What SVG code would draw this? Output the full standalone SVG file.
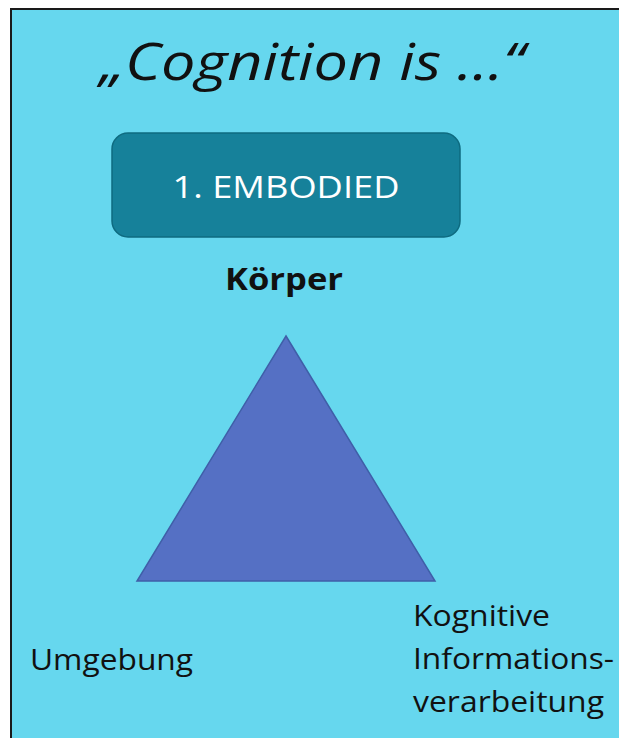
<svg xmlns="http://www.w3.org/2000/svg" width="619" height="738" viewBox="0 0 619 738">
<style>
.t{font-family:"Open Sans","Liberation Sans",sans-serif;fill:#111;}
</style>
<rect x="0" y="0" width="619" height="738" fill="#ffffff"/>
<rect x="11" y="9" width="610" height="731" fill="#66d7ee" stroke="#1a1a1a" stroke-width="2"/>
<text class="t" x="312" y="80" font-size="52" font-style="italic" text-anchor="middle" textLength="425" lengthAdjust="spacingAndGlyphs">„Cognition is …“</text>
<g id="embodied">
<rect x="112" y="133" width="348" height="104" rx="16" ry="16" fill="#16819a" stroke="#0e6b80" stroke-width="1.5"/>
<text x="286" y="198" font-family="Open Sans, Liberation Sans, sans-serif" font-size="31" fill="#ffffff" text-anchor="middle" textLength="227" lengthAdjust="spacingAndGlyphs">1. EMBODIED</text>
</g>
<g id="koerper">
<text class="t" x="284" y="290" font-size="30" font-weight="bold" text-anchor="middle" textLength="118" lengthAdjust="spacingAndGlyphs">Körper</text>
</g>
<g id="triangle">
<polygon points="286,336 435,581 137,581" fill="#5570c4" stroke="#3f5fa8" stroke-width="1.5"/>
</g>
<g id="umgebung">
<text class="t" x="30" y="670" font-size="30" textLength="163" lengthAdjust="spacingAndGlyphs">Umgebung</text>
</g>
<g id="kognitive">
<text class="t" x="413" y="626" font-size="30" textLength="137" lengthAdjust="spacingAndGlyphs">Kognitive</text>
<text class="t" x="413" y="669" font-size="30" textLength="201" lengthAdjust="spacingAndGlyphs">Informations-</text>
<text class="t" x="413" y="712" font-size="30" textLength="191" lengthAdjust="spacingAndGlyphs">verarbeitung</text>
</g>
<g id="connectors"/>
</svg>
